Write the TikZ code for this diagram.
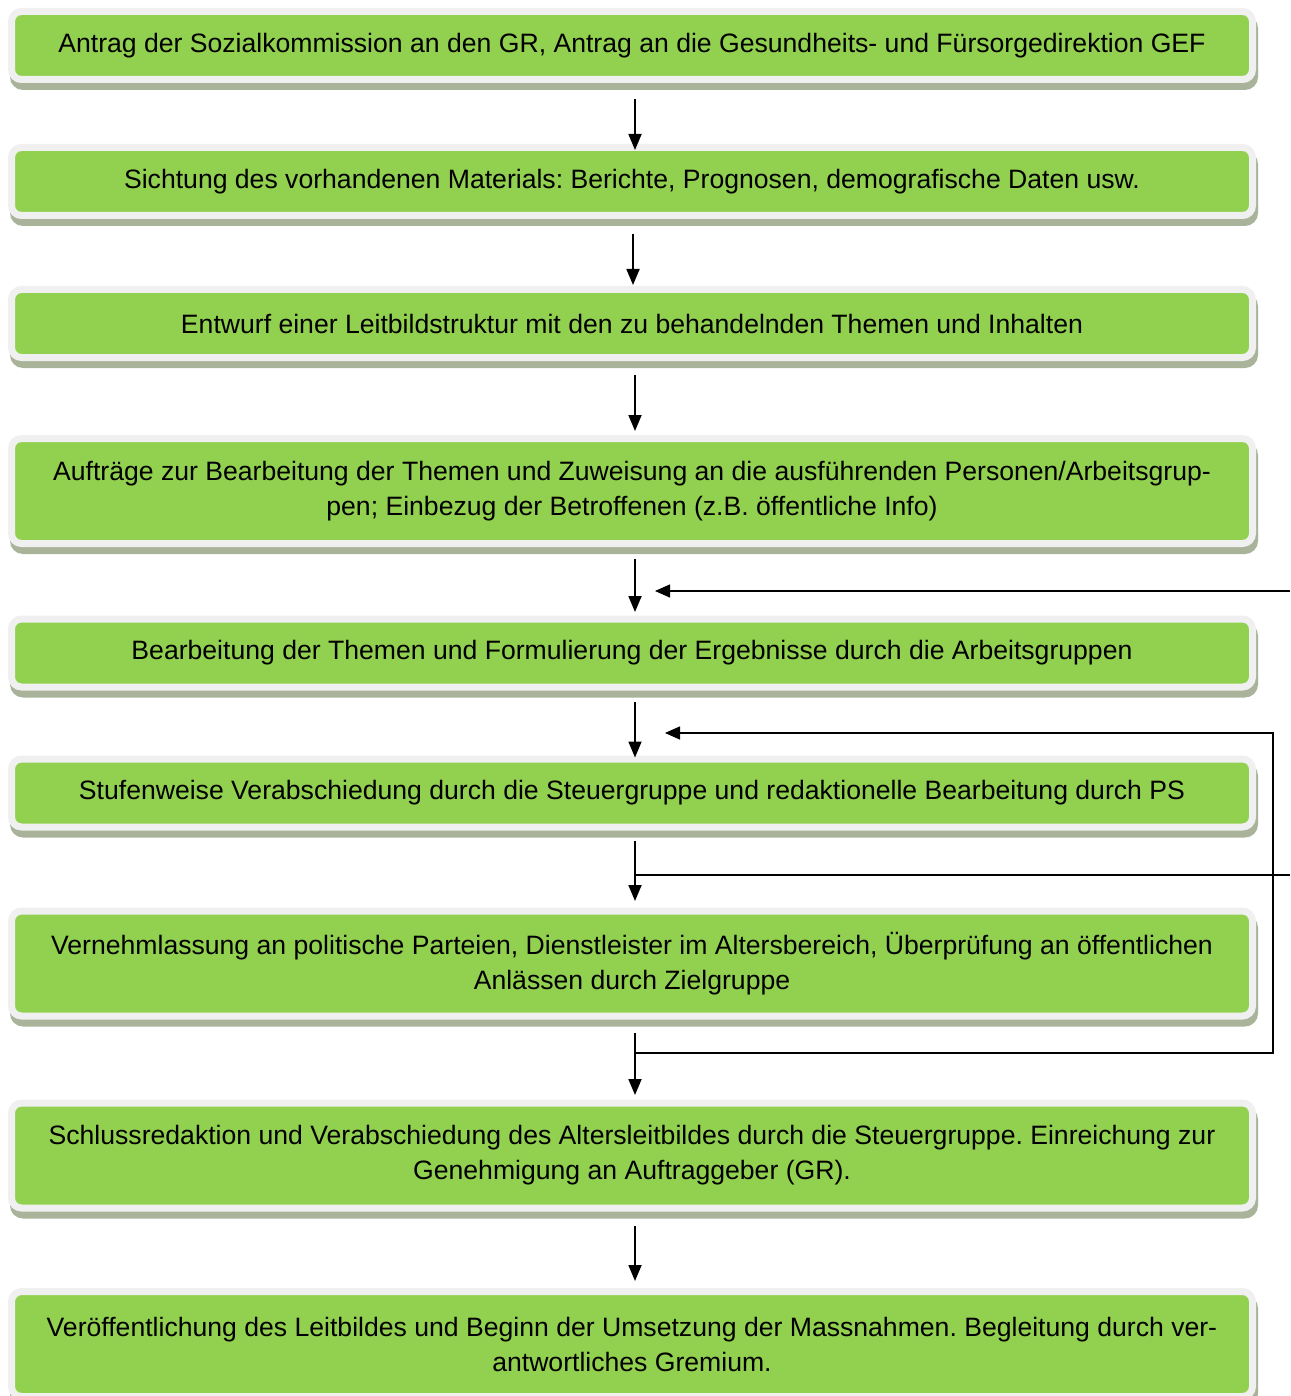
\documentclass[tikz,border=0pt]{standalone}
\usepackage{fontspec}
\setmainfont{Liberation Sans}
\usetikzlibrary{arrows.meta,backgrounds,calc}
\definecolor{boxgreen}{HTML}{92D050}
\definecolor{boxrim}{HTML}{F0F0F0}
\definecolor{boxshade}{HTML}{A9B39A}
\frenchspacing
\begin{document}
\begin{tikzpicture}[x=1pt,y=-1pt,
  stepbox/.style={fill=boxgreen, draw=boxrim, line width=7pt, rounded corners=10pt,
    minimum width=1241pt, inner sep=0pt, outer sep=0pt, align=center,
    font=\fontsize{26.6}{35}\selectfont},
  onebox/.style={stepbox, minimum height=68pt},
  twobox/.style={stepbox, minimum height=105pt},
  flow/.style={line width=1.8pt, -{Triangle[length=16pt,width=13pt]}},
  fb/.style={line width=1.3pt},
  fbarrow/.style={fb, -{Triangle[length=15pt,width=13pt]}}]
\useasboundingbox (0,0) rectangle (1290,1396);

\node[onebox] (b1) at (632,45.5) {Antrag der Sozialkommission an den GR, Antrag an die Gesundheits- und Fürsorgedirektion GEF};
\node[onebox] (b2) at (632,181.5) {Sichtung des vorhandenen Materials: Berichte, Prognosen, demografische Daten usw.};
\node[onebox] (b3) at (632,323.5) {Entwurf einer Leitbildstruktur mit den zu behandelnden Themen und Inhalten};
\node[twobox] (b4) at (632,491) {Aufträge zur Bearbeitung der Themen und Zuweisung an die ausführenden Personen/Arbeitsgrup-\\pen; Einbezug der Betroffenen (z.B. öffentliche Info)};
\node[onebox] (b5) at (632,653) {Bearbeitung der Themen und Formulierung der Ergebnisse durch die Arbeitsgruppen};
\node[onebox] (b6) at (632,793) {Stufenweise Verabschiedung durch die Steuergruppe und redaktionelle Bearbeitung durch PS};
\node[twobox] (b7) at (632,963.5) {Vernehmlassung an politische Parteien, Dienstleister im Altersbereich, Überprüfung an öffentlichen\\Anlässen durch Zielgruppe};
\node[twobox] (b8) at (632,1155.5) {Schlussredaktion und Verabschiedung des Altersleitbildes durch die Steuergruppe. Einreichung zur\\Genehmigung an Auftraggeber (GR).};
\node[twobox] (b9) at (632,1344) {Veröffentlichung des Leitbildes und Beginn der Umsetzung der Massnahmen. Begleitung durch ver-\\antwortliches Gremium.};

\begin{scope}[on background layer]
\foreach \n in {b1,b2,b3,b4,b5,b6,b7,b8,b9}
  \fill[boxshade, rounded corners=13pt] ([xshift=-1.5pt,yshift=-3.5pt]\n.north west) rectangle ([xshift=5.5pt,yshift=-10.5pt]\n.south east);
\end{scope}

\draw[flow] ([xshift=3pt,yshift=-19.5pt]b1.south) -- ([xshift=3pt,yshift=-2.5pt]b2.north);
\draw[flow] ([xshift=1pt,yshift=-18.5pt]b2.south) -- ([xshift=1pt,yshift=4.5pt]b3.north);
\draw[flow] ([xshift=3pt,yshift=-17.5pt]b3.south) -- ([xshift=3pt,yshift=7.5pt]b4.north);
\draw[flow] ([xshift=3pt,yshift=-15.5pt]b4.south) -- ([xshift=3pt,yshift=7pt]b5.north);
\draw[flow] ([xshift=3pt,yshift=-15pt]b5.south) -- ([xshift=3pt,yshift=1.5pt]b6.north);
\draw[flow] ([xshift=3pt,yshift=-14pt]b6.south) -- ([xshift=3pt,yshift=10pt]b7.north);
\draw[flow] ([xshift=3pt,yshift=-17pt]b7.south) -- ([xshift=3pt,yshift=8pt]b8.north);
\draw[flow] ([xshift=3pt,yshift=-18pt]b8.south) -- ([xshift=3pt,yshift=10.5pt]b9.north);

\coordinate (in1) at (1290,591);
\coordinate (tip1) at (655,591);
\draw[fbarrow] (in1) -- (tip1);

\coordinate (j7) at ($(b7.south)+(3,37)$);
\coordinate (tip2) at (665,733);
\draw[fbarrow] (j7) -- (1273,1053) |- (tip2);

\coordinate (j6) at ($(b6.south)+(3,48)$);
\coordinate (out3) at (1290,875);
\draw[fb] (j6) -- (out3);
\end{tikzpicture}
\end{document}
